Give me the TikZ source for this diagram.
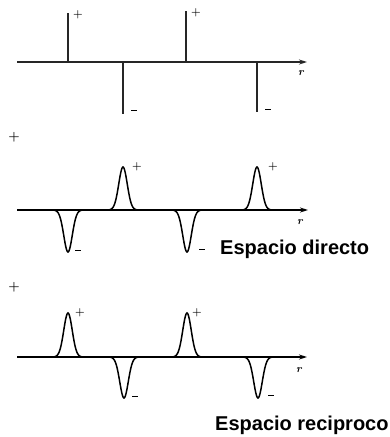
\documentclass[tikz,border=0pt]{standalone}
\usepackage{fontspec}
\newfontfamily\arialfont{Liberation Sans}
\usetikzlibrary{arrows.meta}
\newcommand{\mysgnminus}{\rule[2.6pt]{6pt}{1.3pt}}
\begin{document}
\begin{tikzpicture}[x=1pt,y=-1pt,
  axisline/.style={line width=1.3pt,-{Stealth[length=8pt,width=5pt]}},
  spike/.style={line width=2pt},
  peakline/.style={line width=1.5pt},
  sgn/.style={inner sep=0pt,font=\fontsize{11}{11}\selectfont\bfseries},
  rlab/.style={inner sep=0pt,font=\fontsize{11}{11}\selectfont\bfseries\itshape},
  title/.style={inner sep=0pt,anchor=base west,font=\arialfont\bfseries\fontsize{20}{21}\selectfont}]
\useasboundingbox (0,0) rectangle (390,437);
% ---------- panel 1 ----------
\coordinate (a1s) at (17,62);
\coordinate (a1e) at (307,62);
\draw[axisline,black!85] (a1s) -- (a1e);
\node[rlab] (r1) at (301,73) {r};
\coordinate (s1b) at (68,62);  \coordinate (s1t) at (68,13);
\coordinate (s2b) at (123,62); \coordinate (s2t) at (123,114);
\coordinate (s3b) at (186,62); \coordinate (s3t) at (186,11);
\coordinate (s4b) at (257,62); \coordinate (s4t) at (257,112);
\draw[spike,black!85] (s1b) -- (s1t);
\draw[spike,black!85] (s2b) -- (s2t);
\draw[spike,black!85] (s3b) -- (s3t);
\draw[spike,black!85] (s4b) -- (s4t);
\node[sgn] (p1) at (78,15) {+};
\node[sgn] (m1) at (134,112) {\mysgnminus};
\node[sgn] (p2) at (196,13) {+};
\node[sgn] (m2) at (268,111) {\mysgnminus};
% ---------- panel 2 ----------
\node[sgn,font=\fontsize{13}{13}\selectfont\bfseries] (plus2) at (14,137) {+};
\coordinate (a2s) at (17,210);
\coordinate (a2e) at (308,210);
\draw[axisline] (a2s) -- (a2e);
\node[rlab] (r2) at (300,222) {r};
\draw[peakline] plot[domain=-15:15,samples=41,smooth] ({68+\x},{210+42*exp(0-(\x/6)^2)});
\draw[peakline] plot[domain=-15:15,samples=41,smooth] ({123+\x},{210-43*exp(0-(\x/6)^2)});
\draw[peakline] plot[domain=-15:15,samples=41,smooth] ({187+\x},{210+42*exp(0-(\x/6)^2)});
\draw[peakline] plot[domain=-15:15,samples=41,smooth] ({257+\x},{210-43*exp(0-(\x/6)^2)});
\node[sgn] (m3) at (78,252) {\mysgnminus};
\node[sgn] (p3) at (137,167) {+};
\node[sgn] (m4) at (202,251) {\mysgnminus};
\node[sgn] (p4) at (273,167) {+};
\node[title] (t1) at (220,254) {Espacio directo};
% ---------- panel 3 ----------
\node[sgn,font=\fontsize{13}{13}\selectfont\bfseries] (plus3) at (14,287) {+};
\coordinate (a3s) at (17,357);
\coordinate (a3e) at (307,357);
\draw[axisline] (a3s) -- (a3e);
\node[rlab] (r3) at (299,370) {r};
\draw[peakline] plot[domain=-15:15,samples=41,smooth] ({68+\x},{357-44*exp(0-(\x/6)^2)});
\draw[peakline] plot[domain=-15:15,samples=41,smooth] ({124+\x},{357+41*exp(0-(\x/6)^2)});
\draw[peakline] plot[domain=-15:15,samples=41,smooth] ({187+\x},{357-44*exp(0-(\x/6)^2)});
\draw[peakline] plot[domain=-15:15,samples=41,smooth] ({258+\x},{357+41*exp(0-(\x/6)^2)});
\node[sgn] (p5) at (80,313) {+};
\node[sgn] (m5) at (135,398) {\mysgnminus};
\node[sgn] (p6) at (197,313) {+};
\node[sgn] (m6) at (271,397) {\mysgnminus};
\node[title] (t2) at (215,430) {Espacio reciproco};
\end{tikzpicture}
\end{document}
